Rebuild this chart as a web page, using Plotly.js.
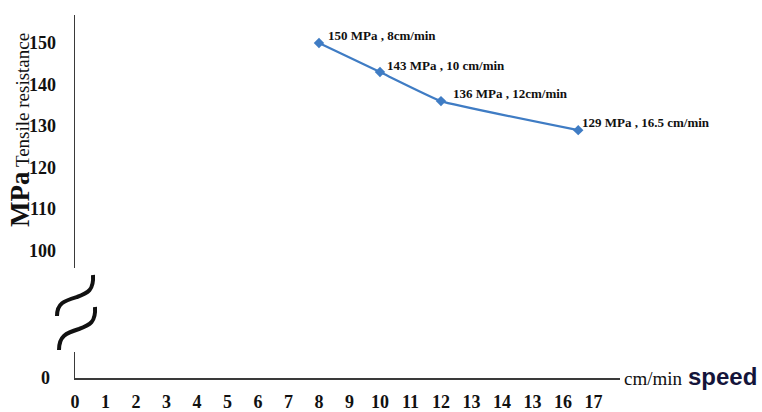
<!DOCTYPE html>
<html>
<head>
<meta charset="utf-8">
<script src="https://cdn.plot.ly/plotly-3.0.1.min.js"></script>
<style>html,body{margin:0;padding:0;background:#fff;}#chart{width:762px;height:412px;}</style>
</head>
<body>
<div id="chart"></div>
<script>
// ---- data ----
const speed = [8, 10, 12, 16.5];            // cm/min
const tensile = [150, 143, 136, 129];       // MPa
const pointLabels = ['150 MPa , 8cm/min', '143 MPa , 10 cm/min', '136 MPa , 12cm/min', '129 MPa , 16.5 cm/min'];
const xTickValues = [0,1,2,3,4,5,6,7,8,9,10,11,12,13,14,15,16,17];
const xTickLabels = ['0','1','2','3','4','5','6','7','8','9','10','11','12','13','14','13','16','17'];
const yTickValues = [100, 110, 120, 130, 140, 150];
const yTickLabels = ['100','110','120','130','140','150'];

// ---- layout geometry ----
const W = 762, H = 412;
const M = {l: 75, r: 142, t: 15, b: 34};
const PW = W - M.l - M.r, PH = H - M.t - M.b;
const px = x => (x - M.l) / PW;
const py = y => (H - M.b - y) / PH;

const serif = 'Liberation Serif, Times New Roman, serif';
const axisColor = '#3a3a3a';
const lineColor = '#3f7cc4';

const trace = {
  x: speed, y: tensile, xaxis: 'x', yaxis: 'y',
  mode: 'lines+markers', type: 'scatter',
  line: {color: lineColor, width: 2.2, shape: 'spline', smoothing: 0.3},
  marker: {symbol: 'diamond', size: 8, color: lineColor},
  hoverinfo: 'skip'
};
// empty trace so the lower (broken-axis) subplot exists
const lowerTrace = {
  x: [null], y: [null], xaxis: 'x', yaxis: 'y2', type: 'scatter', mode: 'markers',
  hoverinfo: 'skip', showlegend: false
};

const shifts = [[7, 8], [5, 7], [10, 8], [2, 8]];
const annotations = speed.map((s, i) => ({
  x: s, y: tensile[i], xref: 'x', yref: 'y',
  text: '<b>' + pointLabels[i] + '</b>', showarrow: false,
  xanchor: 'left', yanchor: 'middle', xshift: shifts[i][0], yshift: shifts[i][1],
  font: {family: serif, size: 13, color: '#111'}
}));

annotations.push({
  xref: 'paper', yref: 'paper', x: px(20), y: py(130),
  text: "<b><span style='font-size:27px'>MPa</span></b> Tensile resistance",
  textangle: -90, showarrow: false, xanchor: 'center', yanchor: 'middle',
  font: {family: serif, size: 19, color: '#111'}
});
annotations.push({
  xref: 'paper', yref: 'paper', x: px(622), y: py(378),
  text: 'cm/min', showarrow: false, xanchor: 'left', yanchor: 'middle',
  font: {family: serif, size: 19, color: '#111'}
});
annotations.push({
  xref: 'paper', yref: 'paper', x: px(686), y: py(376),
  text: '<b>speed</b>', showarrow: false, xanchor: 'left', yanchor: 'middle',
  font: {family: 'Liberation Sans, Arial, sans-serif', size: 24, color: '#14143a'}
});

function pathFrom(points) {
  return points.map(p => p[0] + ' ' + p.slice(1).map((v, k) => k % 2 === 0 ? px(v) : py(v)).join(' ')).join(' ');
}
const breakShapes = [
  pathFrom([['M', 93, 275], ['C', 94, 290, 88, 293, 77, 297], ['C', 64, 301, 57, 303, 57, 316]]),
  pathFrom([['M', 95, 307], ['C', 96, 322, 90, 325, 79, 329], ['C', 66, 333, 59, 336, 59, 350]])
].map(p => ({type: 'path', xref: 'paper', yref: 'paper', path: p,
  line: {color: '#111', width: 4}}));

const tickFont = {family: serif, size: 18, color: '#111', weight: 'bold'};
const layout = {
  width: W, height: H,
  margin: M,
  paper_bgcolor: '#fff', plot_bgcolor: '#fff',
  showlegend: false,
  xaxis: {
    anchor: 'y2', range: [0, 17.87], showgrid: false, zeroline: false,
    showline: true, linecolor: axisColor, linewidth: 1.5,
    tickmode: 'array', tickvals: xTickValues, ticktext: xTickLabels,
    ticks: '', ticklabelstandoff: 7, tickfont: tickFont
  },
  yaxis: {
    anchor: 'x', domain: [py(268), 1], range: [95.78, 156.75],
    showgrid: false, zeroline: false,
    showline: true, linecolor: axisColor, linewidth: 1.5,
    tickmode: 'array', tickvals: yTickValues, ticktext: yTickLabels,
    ticks: '', ticklabelstandoff: 14, tickfont: tickFont
  },
  yaxis2: {
    anchor: 'x', domain: [0, py(352)], range: [0, 10],
    showgrid: false, zeroline: false,
    showline: true, linecolor: axisColor, linewidth: 1.5,
    tickmode: 'array', tickvals: [0], ticktext: ['0'],
    ticks: '', ticklabelstandoff: 20, tickfont: tickFont
  },
  annotations: annotations,
  shapes: breakShapes
};

Plotly.newPlot('chart', [trace, lowerTrace], layout, {staticPlot: true, displayModeBar: false});
</script>
</body>
</html>
